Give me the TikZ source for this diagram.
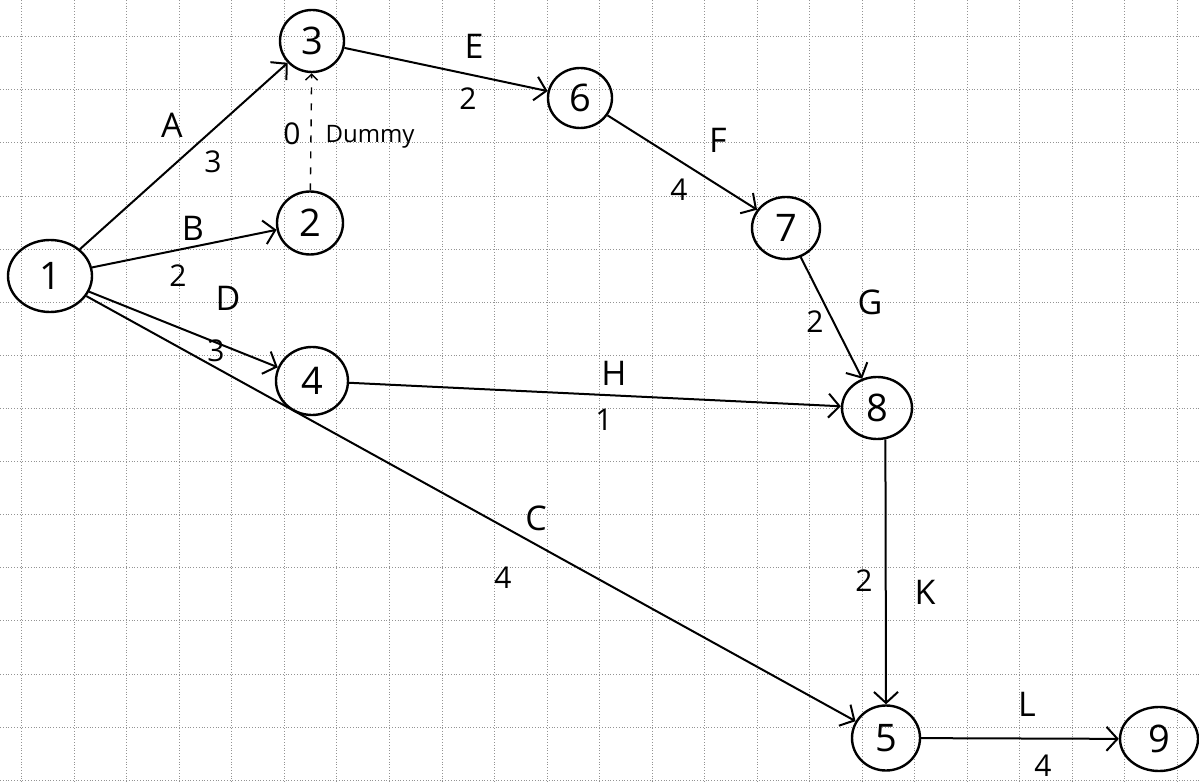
\documentclass[tikz,border=0pt]{standalone}
\usepackage{fontspec}
\setmainfont{Open Sans}
\usetikzlibrary{arrows.meta,shapes.geometric}
\begin{document}
\begin{tikzpicture}[x=1pt,y=-1pt,
  ev/.style={draw, ellipse, line width=2.4pt, inner sep=0pt, font=\fontsize{38}{38}\selectfont},
  act/.style={line width=2pt, -{Straight Barb[length=11pt,width=24pt,line width=2pt]}},
  dum/.style={line width=1.4pt, dash pattern=on 7pt off 9pt, -{Straight Barb[length=6pt,width=12pt,line width=1.4pt]}},
  lbl/.style={inner sep=0pt, font=\fontsize{34}{34}\selectfont},
  wt/.style={inner sep=0pt, font=\fontsize{30}{30}\selectfont},
  gridline/.style={gray!85, line width=0.8pt, dotted}]
\useasboundingbox (0,0) rectangle (1199,783);
\fill[white] (0,0) rectangle (1199,783);
\foreach \k in {0,...,22} {\draw[gridline] ({21.7+52.53*\k},0) -- ({21.7+52.53*\k},783);}
\foreach \k in {0,...,14} {\draw[gridline] (0,{36.7+53.1*\k}) -- (1199,{36.7+53.1*\k});}
% events
\node[ev, minimum width=84, minimum height=72] (n1) at (50,276) {1};
\node[ev, minimum width=64, minimum height=62] (n3) at (312,41) {3};
\node[ev, minimum width=66, minimum height=63] (n2) at (310,223) {2};
\node[ev, minimum width=72, minimum height=68] (n4) at (312,381) {4};
\node[ev, minimum width=64, minimum height=60] (n6) at (580,98) {6};
\node[ev, minimum width=68, minimum height=62] (n7) at (786,228) {7};
\node[ev, minimum width=70, minimum height=62] (n8) at (877,408) {8};
\node[ev, minimum width=68, minimum height=65] (n5) at (886,738) {5};
\node[ev, minimum width=78, minimum height=64] (n9) at (1159,739) {9};
% activities
\draw[act] (n1) -- (n3);
\draw[act] (n1) -- (n2);
\draw[act] (n1) -- (n4);
\draw[act] (n1) -- (n5);
\draw[act] (n3) -- (n6);
\draw[act] (n6) -- (n7);
\draw[act] (n7) -- (n8);
\draw[act] (n4) -- (n8);
\draw[act] (n8.285) -- (n5.north);
\draw[act] (n5) -- (n9);
\draw[dum] (n2) -- (n3);
% labels
\node[lbl] (lA) at (172,125) {A};
\node[wt]  (wA) at (213,162) {3};
\node[lbl] (lB) at (193,228) {B};
\node[wt]  (wB) at (178,276) {2};
\node[lbl] (lD) at (228,298) {D};
\node[wt]  (wD) at (216,351) {3};
\node[wt]  (w0) at (292,134) {0};
\node[font=\fontsize{24}{24}\selectfont, inner sep=0pt] (ldum) at (370,137) {Dummy};
\node[lbl] (lE) at (474,46) {E};
\node[wt]  (wE) at (468,99) {2};
\node[lbl] (lF) at (718,140) {F};
\node[wt]  (wF) at (679,190) {4};
\node[lbl] (lG) at (870,302) {G};
\node[wt]  (wG) at (815,322) {2};
\node[lbl] (lH) at (614,373) {H};
\node[wt]  (wH) at (604,420) {1};
\node[lbl] (lC) at (536,518) {C};
\node[wt]  (wC) at (503,578) {4};
\node[lbl] (lK) at (925,592) {K};
\node[wt]  (wK) at (864,581) {2};
\node[lbl] (lL) at (1027,704) {L};
\node[wt]  (wL) at (1043,766) {4};
\end{tikzpicture}
\end{document}
